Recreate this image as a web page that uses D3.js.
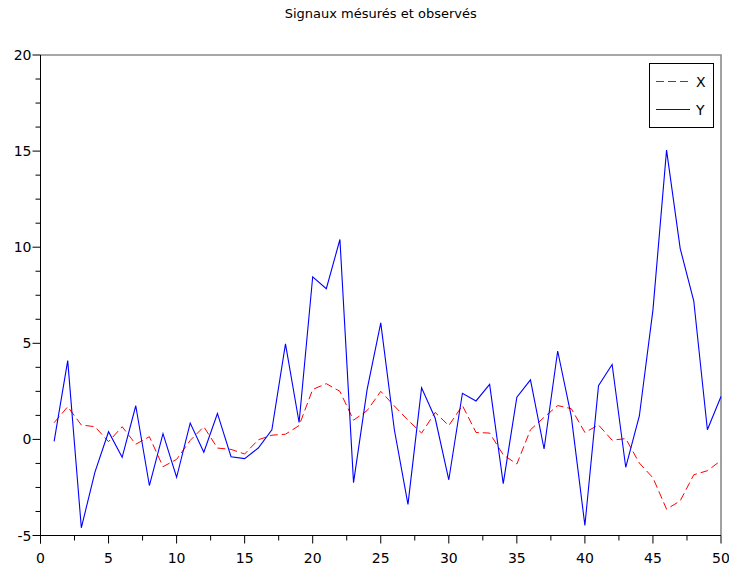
<!DOCTYPE html>
<html>
<head>
<meta charset="utf-8">
<script src="https://cdn.jsdelivr.net/npm/d3@7"></script>
<style>
  html, body { margin: 0; padding: 0; background: #fff; }
  svg { display: block; font-family: "DejaVu Sans", sans-serif; }
</style>
</head>
<body>
<svg id="chart" width="729" height="566"></svg>
<script>
// Sample index 1..50
const samples = d3.range(1, 51);

// Measured signal X (red dashed)
const seriesX = [
  0.87, 1.70, 0.75, 0.66, -0.12, 0.66, -0.25, 0.14, -1.42, -1.04,
  -0.05, 0.66, -0.45, -0.52, -0.76, -0.02, 0.22, 0.27, 0.72, 2.60,
  2.90, 2.50, 1.00, 1.50, 2.50, 1.74, 1.00, 0.33, 1.40, 0.72,
  1.76, 0.36, 0.33, -0.80, -1.28, 0.50, 1.15, 1.76, 1.60, 0.36,
  0.75, -0.04, 0.04, -1.23, -2.00, -3.63, -3.20, -1.84, -1.63, -1.10
];

// Observed signal Y (blue solid)
const seriesY = [
  -0.10, 4.10, -4.60, -1.70, 0.40, -0.93, 1.75, -2.40, 0.30, -1.97,
  0.85, -0.67, 1.35, -0.90, -1.00, -0.45, 0.50, 4.97, 0.88, 8.46,
  7.84, 10.40, -2.25, 2.60, 6.06, 0.50, -3.38, 2.68, 1.10, -2.10,
  2.40, 2.00, 2.86, -2.30, 2.20, 3.10, -0.50, 4.60, 1.20, -4.48,
  2.80, 3.90, -1.45, 1.22, 6.74, 15.05, 9.94, 7.20, 0.50, 2.23
];

const xMajorTicks = [0, 5, 10, 15, 20, 25, 30, 35, 40, 45, 50];
const yMajorTicks = [-5, 0, 5, 10, 15, 20];
const titleText = "Signaux mésurés et observés";
const legendLabels = ["X", "Y"];

const svg = d3.select("#chart");
const plotL = 40.5, plotR = 721, plotT = 55, plotB = 535.5;

const x = d3.scaleLinear().domain([0, 50]).range([plotL, plotR]);
const y = d3.scaleLinear().domain([-5, 20]).range([plotB, plotT]);

// Grey frame (top and right sides)
svg.append("path")
  .attr("d", `M${plotL},${plotT}H${plotR}V${plotB}`)
  .attr("fill", "none")
  .attr("stroke", "#8a8a8a")
  .attr("stroke-width", 1.6);

// Minor ticks
const xMinor = d3.range(0, 50.01, 2.5).filter(v => v % 5 !== 0);
const yMinor = d3.range(-5, 20.01, 1.25).filter(v => v % 5 !== 0);

// X axis
const xAxis = svg.append("g").attr("transform", `translate(0,${plotB})`);
xAxis.append("line").attr("x1", plotL).attr("x2", plotR).attr("stroke", "#000");
xAxis.selectAll("line.maj").data(xMajorTicks).join("line")
  .attr("class", "maj")
  .attr("x1", d => x(d)).attr("x2", d => x(d))
  .attr("y1", 0).attr("y2", 8).attr("stroke", "#000");
xAxis.selectAll("line.min").data(xMinor).join("line")
  .attr("class", "min")
  .attr("x1", d => x(d)).attr("x2", d => x(d))
  .attr("y1", 0).attr("y2", 5).attr("stroke", "#000");
xAxis.selectAll("text").data(xMajorTicks).join("text")
  .attr("x", d => x(d)).attr("y", 27)
  .attr("text-anchor", "middle")
  .attr("font-size", 14)
  .text(d => d);

// Y axis
const yAxis = svg.append("g").attr("transform", `translate(${plotL},0)`);
yAxis.append("line").attr("y1", plotT).attr("y2", plotB + 8).attr("stroke", "#000");
yAxis.selectAll("line.maj").data(yMajorTicks).join("line")
  .attr("class", "maj")
  .attr("y1", d => y(d)).attr("y2", d => y(d))
  .attr("x1", 0).attr("x2", -8).attr("stroke", "#000");
yAxis.selectAll("line.min").data(yMinor).join("line")
  .attr("class", "min")
  .attr("y1", d => y(d)).attr("y2", d => y(d))
  .attr("x1", 0).attr("x2", -5).attr("stroke", "#000");
yAxis.selectAll("text").data(yMajorTicks).join("text")
  .attr("x", -9).attr("y", d => y(d) + 5)
  .attr("text-anchor", "end")
  .attr("font-size", 14)
  .text(d => d);

// Series lines
const line = d3.line().x((d, i) => x(samples[i])).y(d => y(d));

svg.append("path")
  .datum(seriesX)
  .attr("d", line)
  .attr("fill", "none")
  .attr("stroke", "#ff0000")
  .attr("stroke-width", 1)
  .attr("stroke-dasharray", "8,4");

svg.append("path")
  .datum(seriesY)
  .attr("d", line)
  .attr("fill", "none")
  .attr("stroke", "#0000ff")
  .attr("stroke-width", 1.1);

// Title
svg.append("text")
  .attr("x", (plotL + plotR) / 2).attr("y", 18)
  .attr("text-anchor", "middle")
  .attr("font-size", 13)
  .text(titleText);

// Legend
const legend = svg.append("g");
legend.append("rect")
  .attr("x", 649.5).attr("y", 63.5).attr("width", 64).attr("height", 64)
  .attr("fill", "#fff").attr("stroke", "#000");
const legendStyles = [
  { color: "#ff0000", dash: "8,4" },
  { color: "#0000ff", dash: null }
];
legendLabels.forEach((lab, i) => {
  const ly = 81.5 + i * 28;
  legend.append("line")
    .attr("x1", 656).attr("x2", 690).attr("y1", ly).attr("y2", ly)
    .attr("stroke", legendStyles[i].color)
    .attr("stroke-dasharray", legendStyles[i].dash);
  legend.append("text")
    .attr("x", 696).attr("y", ly + 5)
    .attr("font-size", 14)
    .text(lab);
});
</script>
</body>
</html>
